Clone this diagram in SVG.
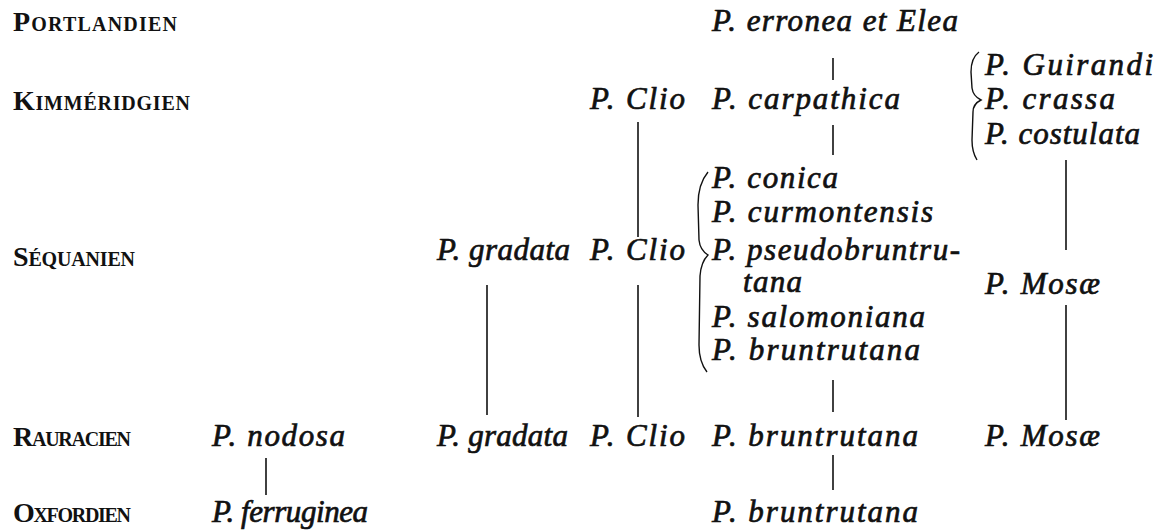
<svg xmlns="http://www.w3.org/2000/svg" width="1158" height="532" viewBox="0 0 1158 532">
<style>
.st{font-family:'Liberation Serif','DejaVu Serif',serif;font-size:28px;font-weight:bold;fill:#111}
.st tspan.sc{font-size:20px}
.sp{font-family:'Liberation Serif','DejaVu Serif',serif;font-style:italic;font-size:31px;fill:#111;stroke:#111;stroke-width:0.7}
.ln{stroke:#111;stroke-width:1.6;fill:none}
.br{stroke:#111;stroke-width:1.4;fill:none}
</style>
<rect width="1158" height="532" fill="#fff"/>
<g id="stages">
<g id="portlandien"><text class="st" x="13" y="31" textLength="164">P<tspan class="sc">ORTLANDIEN</tspan></text></g>
<g id="kimmeridgien"><text class="st" x="13" y="110" textLength="177">K<tspan class="sc">IMMÉRIDGIEN</tspan></text></g>
<g id="sequanien"><text class="st" x="13" y="266" textLength="122">S<tspan class="sc">ÉQUANIEN</tspan></text></g>
<g id="rauracien"><text class="st" x="13" y="446" textLength="118">R<tspan class="sc">AURACIEN</tspan></text></g>
<g id="oxfordien"><text class="st" x="13" y="522" textLength="118">O<tspan class="sc">XFORDIEN</tspan></text></g>
</g>
<g id="n-erronea"><text class="sp" x="712" y="31" textLength="246">P. erronea et Elea</text></g>
<g id="n-clio-k"><text class="sp" x="590" y="109" textLength="95">P. Clio</text></g>
<g id="n-carpathica"><text class="sp" x="712" y="109" textLength="188">P. carpathica</text></g>
<g id="n-guirandi"><text class="sp" x="985" y="75" textLength="168">P. Guirandi</text></g>
<g id="n-crassa"><text class="sp" x="985" y="109" textLength="130">P. crassa</text></g>
<g id="n-costulata"><text class="sp" x="985" y="144" textLength="155">P. costulata</text></g>
<g id="n-conica"><text class="sp" x="712" y="188" textLength="126">P. conica</text></g>
<g id="n-curmontensis"><text class="sp" x="712" y="222" textLength="221">P. curmontensis</text></g>
<g id="n-pseudobruntrutana"><text class="sp" x="712" y="260" textLength="248">P. pseudobruntru-</text><text class="sp" x="743" y="292" textLength="59">tana</text></g>
<g id="n-salomoniana"><text class="sp" x="712" y="327" textLength="213">P. salomoniana</text></g>
<g id="n-bruntrutana-s"><text class="sp" x="712" y="360" textLength="208">P. bruntrutana</text></g>
<g id="n-gradata-s"><text class="sp" x="437" y="260" textLength="133">P. gradata</text></g>
<g id="n-clio-s"><text class="sp" x="590" y="260" textLength="95">P. Clio</text></g>
<g id="n-mosae-s"><text class="sp" x="985" y="294" textLength="115">P. Mosæ</text></g>
<g id="n-nodosa"><text class="sp" x="212" y="446" textLength="133">P. nodosa</text></g>
<g id="n-gradata-r"><text class="sp" x="437" y="446" textLength="131">P. gradata</text></g>
<g id="n-clio-r"><text class="sp" x="590" y="446" textLength="95">P. Clio</text></g>
<g id="n-bruntrutana-r"><text class="sp" x="712" y="446" textLength="206">P. bruntrutana</text></g>
<g id="n-mosae-r"><text class="sp" x="985" y="446" textLength="115">P. Mosæ</text></g>
<g id="n-ferruginea"><text class="sp" x="212" y="522" textLength="156">P. ferruginea</text></g>
<g id="n-bruntrutana-o"><text class="sp" x="712" y="522" textLength="206">P. bruntrutana</text></g>
<g id="connectors">
<line class="ln" x1="833" y1="58" x2="833" y2="80"/>
<line class="ln" x1="833" y1="125" x2="833" y2="155"/>
<line class="ln" x1="833" y1="380" x2="833" y2="412"/>
<line class="ln" x1="833" y1="455" x2="833" y2="490"/>
<line class="ln" x1="638" y1="122" x2="638" y2="237"/>
<line class="ln" x1="638" y1="285" x2="638" y2="417"/>
<line class="ln" x1="487" y1="285" x2="487" y2="415"/>
<line class="ln" x1="266" y1="458" x2="266" y2="495"/>
<line class="ln" x1="1066" y1="160" x2="1066" y2="250"/>
<line class="ln" x1="1066" y1="305" x2="1066" y2="420"/>
</g>
<g id="braces">
<path class="br" d="M979 52 Q971 58 971 72 L972 88 Q973 96 981 100 Q973 104 973 112 L972 140 Q972 152 977 160"/>
<path class="br" d="M708 172 Q698 184 698 205 L699 240 Q700 250 708 255 Q701 262 700 276 L699 345 Q699 362 707 372"/>
</g>
</svg>
